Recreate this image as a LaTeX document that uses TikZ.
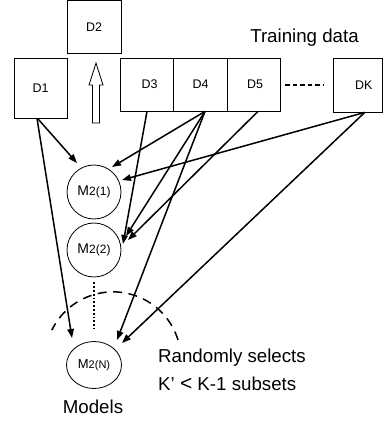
\documentclass[tikz,border=0pt]{standalone}
\usepackage{fontspec}
\setmainfont{Liberation Sans}
\usetikzlibrary{arrows.meta,calc,shapes.geometric}
\begin{document}
\begin{tikzpicture}[x=1pt,y=-1pt,
  dbox/.style={draw, line width=0.8pt, inner sep=0pt, font=\fontsize{12.5}{14}\selectfont},
  model/.style={draw, line width=0.8pt, inner sep=0pt},
  arr/.style={line width=1.5pt, -{Triangle[length=9pt,width=6.5pt]}},
  lbl/.style={font=\fontsize{18.7}{22}\selectfont, inner sep=0pt}]
\useasboundingbox (0,0) rectangle (383,425);
% data boxes
\node[dbox, minimum width=53pt, minimum height=60pt] (d1) at (40.5,88) {D1};
\node[dbox, minimum width=54pt, minimum height=52.5pt] (d2) at (94,26.75) {D2};
\node[dbox, minimum width=53.5pt, minimum height=53pt] (d3) at (147,84.5) {\hspace*{5pt}D3};
\node[dbox, minimum width=53.5pt, minimum height=53pt] (d4) at (200.5,84.5) {D4};
\node[dbox, minimum width=53pt, minimum height=53pt] (d5) at (253.5,84.5) {\hspace*{3pt}D5};
\node[dbox, minimum width=49.5pt, minimum height=54pt] (dk) at (357.75,85) {\hspace*{12pt}DK};
\coordinate (dashA) at (285,85);
\coordinate (dashB) at (323,85);
\draw[line width=1.5pt, dash pattern=on 4.5pt off 3pt] (dashA) -- (dashB);
% hollow arrow
\draw[line width=0.8pt] (92.5,123) -- (92.5,85) -- (89,85) -- (96,63) -- (103,85) -- (99.5,85) -- (99.5,123) -- cycle;
% models
\node[model, circle, minimum size=54pt] (m1) at (94,192) {\fontsize{14}{15}\selectfont M\fontsize{12}{13}\selectfont 2(1)};
\node[model, circle, minimum size=54pt] (m2) at (94,250) {\fontsize{14}{15}\selectfont M\fontsize{12}{13}\selectfont 2(2)};
\node[model, ellipse, minimum width=55pt, minimum height=47pt] (mN) at (94,365) {\fontsize{13}{14}\selectfont M\fontsize{11}{12}\selectfont 2(N)};
\draw[line width=1.8pt, dotted, shorten <=5pt, shorten >=12pt] (m2.south) -- (mN.north);
% dashed arc
\coordinate (arcR) at (178,340);
\draw[line width=1.5pt, dash pattern=on 9pt off 6.5pt] (arcR) arc[start angle=17, end angle=154, radius=68pt];
% connectors
\draw[arr] ([xshift=-3pt]d1.south) -- ($(m1)+(-17,-29)$);
\draw[arr] ([xshift=-3.5pt]d1.south) -- ($(mN)+(-22,-27)$);
\draw[arr] (d3.south) -- ($(m2)+(29,-6)$);
\draw[arr] ([xshift=4.5pt]d4.south) -- ($(m1)+(18,-25)$);
\draw[arr] ([xshift=4.5pt]d4.south) -- ($(m2)+(32,-14)$);
\draw[arr] ([xshift=4.5pt]d4.south) -- ($(mN)+(23,-25)$);
\draw[arr] ([xshift=4.5pt]d5.south) -- ($(m2)+(34,-10)$);
\draw[arr] ([xshift=7pt]dk.south) -- ($(m1)+(28,-12)$);
\draw[arr] ([xshift=7pt]dk.south) -- ($(mN)+(28,-22)$);
% texts
\node[lbl, anchor=base] (train) at (304.5,43) {Training data};
\node[lbl, anchor=base west] (rand1) at (158,362) {Randomly selects};
\node[lbl, anchor=base west] (rand2) at (158,390) {K’ {\fontsize{21}{22}\selectfont<} K-1 subsets};
\node[lbl, anchor=base] (models) at (93,413) {Models};
\end{tikzpicture}
\end{document}
